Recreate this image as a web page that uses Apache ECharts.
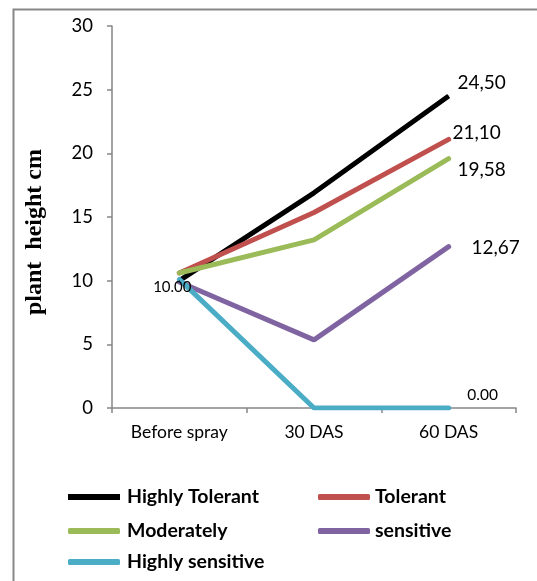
<!DOCTYPE html>
<html>
<head>
<meta charset="utf-8">
<script src="https://cdn.jsdelivr.net/npm/echarts@6/dist/echarts.min.js"></script>
<style>
  html, body { margin: 0; padding: 0; background: #fff; }
  #chart { width: 537px; height: 581px; }
</style>
</head>
<body>
<div id="chart"></div>
<script>
// Plant height (cm) by tolerance group over time
const categories = ['Before spray', '30 DAS', '60 DAS'];
const seriesNames = ['Highly Tolerant', 'Tolerant', 'Moderately', 'sensitive', 'Highly sensitive'];
const highlyTolerant = [10.0, 16.9, 24.5];
const tolerant = [10.6, 15.35, 21.1];
const moderately = [10.6, 13.2, 19.58];
const sensitive = [9.9, 5.35, 12.67];
const highlySensitive = [10.1, 0, 0];
const yTicks = { min: 0, max: 30, interval: 5 };

const colors = ['#000000', '#C0504D', '#9BBB59', '#8064A2', '#4BACC6'];
const values = [highlyTolerant, tolerant, moderately, sensitive, highlySensitive];

// which points carry a value label: [seriesIndex, pointIndex, decimal mark, font size, offset]
const labelled = [
  [0, 0, '.', 15, [-7, 6]],
  [0, 2, ',', 19, [33, -13]],
  [1, 2, ',', 19, [28, -6]],
  [2, 2, ',', 19, [33, 11]],
  [3, 2, ',', 19, [47, 1]],
  [4, 2, '.', 15.5, [34, -13]]
];

const sansFont = 'Lato, "Open Sans", sans-serif';

function buildData(si) {
  return values[si].map((v, pi) => {
    const hit = labelled.find(l => l[0] === si && l[1] === pi);
    if (!hit) return v;
    const sep = hit[2];
    return {
      value: v,
      label: {
        show: true,
        position: 'inside',
        offset: hit[4],
        fontSize: hit[3],
        fontFamily: sansFont,
        color: '#000',
        formatter: p => p.value.toFixed(2).replace('.', sep)
      }
    };
  });
}

const series = seriesNames.map((name, i) => ({
  name: name,
  type: 'line',
  data: buildData(i),
  symbol: 'circle',
  symbolSize: 1,
  showSymbol: true,
  itemStyle: { color: colors[i] },
  lineStyle: { color: colors[i], width: 5, cap: i === 0 ? 'butt' : 'round' },
  label: { show: false },
  emphasis: { disabled: true },
  animation: false
}));

// legend placement: [name, left, top]
const legendSlots = [
  ['Highly Tolerant', 68, 487],
  ['Tolerant', 318, 487],
  ['Moderately', 68, 521],
  ['sensitive', 318, 521],
  ['Highly sensitive', 68, 552]
];

const legends = legendSlots.map(([name, left, top]) => ({
  data: [{ name: name, icon: name === 'Highly Tolerant' ? 'rect' : 'roundRect' }],
  left: left,
  top: top,
  itemWidth: 52,
  itemHeight: 6,
  padding: 0,
  selectedMode: false,
  textStyle: {
    fontFamily: sansFont,
    fontWeight: 'bold',
    fontSize: 19.5,
    color: '#000',
    lineHeight: 20,
    padding: [0, 0, 0, name === 'Tolerant' || name === 'sensitive' ? 0 : 2]
  }
}));

const chart = echarts.init(document.getElementById('chart'), null, { renderer: 'canvas' });
chart.setOption({
  backgroundColor: '#fff',
  animation: false,
  graphic: [{
    type: 'rect',
    shape: { x: 13.5, y: 9.5, width: 700, height: 700 },
    style: { fill: 'none', stroke: '#878787', lineWidth: 2 },
    silent: true
  }, {
    type: 'text',
    rotation: Math.PI / 2,
    x: 35,
    y: 232,
    style: {
      text: 'plant  height cm',
      font: 'bold 24px "Liberation Serif", "Times New Roman", serif',
      fill: '#000',
      align: 'center',
      verticalAlign: 'middle'
    },
    silent: true
  }],
  legend: legends,
  grid: { left: 112, right: 21, top: 26, bottom: 173, containLabel: false },
  xAxis: {
    type: 'category',
    data: categories,
    boundaryGap: true,
    axisLine: { lineStyle: { color: '#868686', width: 1.5 } },
    axisTick: { show: true, length: 5, interval: 0, lineStyle: { color: '#868686', width: 1.5 } },
    axisLabel: { fontFamily: sansFont, fontSize: 17.5, color: '#000', margin: 15, interval: 0 },
    splitLine: { show: false }
  },
  yAxis: {
    type: 'value',
    min: yTicks.min,
    max: yTicks.max,
    interval: yTicks.interval,
    axisLine: { show: true, lineStyle: { color: '#868686', width: 1.5 } },
    axisTick: { show: true, length: 5, lineStyle: { color: '#868686', width: 1.5 } },
    axisLabel: { fontFamily: sansFont, fontSize: 18.5, color: '#000', margin: 19 },
    splitLine: { show: false }
  },
  series: series
});
</script>
</body>
</html>
